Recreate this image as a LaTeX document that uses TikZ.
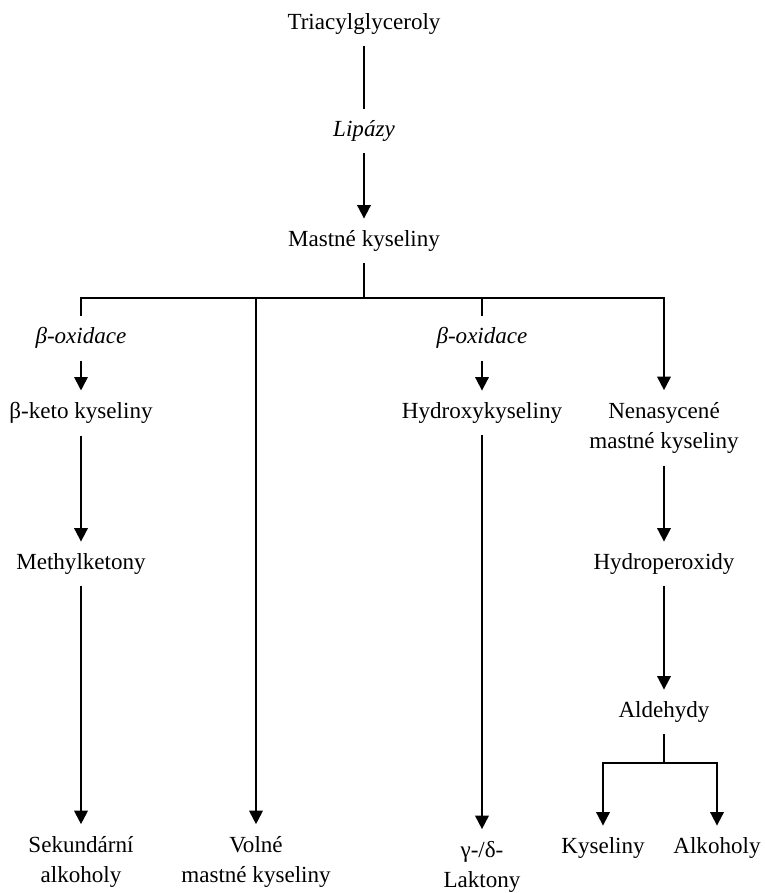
\documentclass[tikz,border=0pt]{standalone}
\usepackage{fontspec}
\setmainfont{Liberation Serif}
\usetikzlibrary{arrows.meta,positioning}
\tikzset{
  lbl/.style={align=center,inner xsep=2pt,inner ysep=6pt,
              font=\fontsize{12}{16}\selectfont},
  enz/.style={lbl,font=\fontsize{12}{16}\selectfont\itshape},
  ln/.style={line width=1pt},
  arr/.style={-{Triangle[length=7pt,width=7pt]},line width=1pt},
}
\begin{document}
\begin{tikzpicture}[x=0.52pt,y=-0.52pt]
\useasboundingbox (0,0) rectangle (764,893);

\node[lbl] (tri) at (364,24) {Triacylglyceroly};
\node[enz] (lip) at (364,131) {Lipázy};
\node[lbl] (mast) at (364,241) {Mastné kyseliny};
\coordinate (j0) at (364,298);

\node[enz] (ox1) at (81,338) {β-oxidace};
\node[enz] (ox3) at (482,338) {β-oxidace};
\node[lbl] (keto) at (81,413) {β-keto kyseliny};
\node[lbl] (hydr) at (482,413) {Hydroxykyseliny};
\node[lbl] (nenas) at (664,428) {Nenasycené\\mastné kyseliny};
\node[lbl] (metk) at (81,564) {Methylketony};
\node[lbl] (hper) at (664,564) {Hydroperoxidy};
\node[lbl] (ald) at (664,712) {Aldehydy};
\coordinate (j5) at (664,763);
\node[lbl] (kys) at (603,848) {Kyseliny};
\node[lbl] (alk) at (717,848) {Alkoholy};
\node[lbl] (sek) at (81,862) {Sekundární\\alkoholy};
\node[lbl] (voln) at (256,862) {Volné\\mastné kyseliny};
\node[lbl] (lakt) at (482,867) {γ-/δ-\\Laktony};

\draw[ln] (tri) -- (lip);
\draw[arr] (lip) -- (mast);
\draw[ln] (mast) -- (j0) -| (ox1);
\draw[ln] (j0) -| (ox3);
\draw[arr] (j0) -| (voln);
\draw[arr] (j0) -| (nenas);

\draw[arr] (ox1) -- (keto);
\draw[arr] (keto) -- (metk);
\draw[arr] (metk) -- (sek);

\draw[arr] (ox3) -- (hydr);
\draw[arr] (hydr) -- (lakt);

\draw[arr] (nenas) -- (hper);
\draw[arr] (hper) -- (ald);
\draw[ln] (ald) -- (j5);
\draw[arr] (j5) -| (kys);
\draw[arr] (j5) -| (alk);
\end{tikzpicture}
\end{document}
